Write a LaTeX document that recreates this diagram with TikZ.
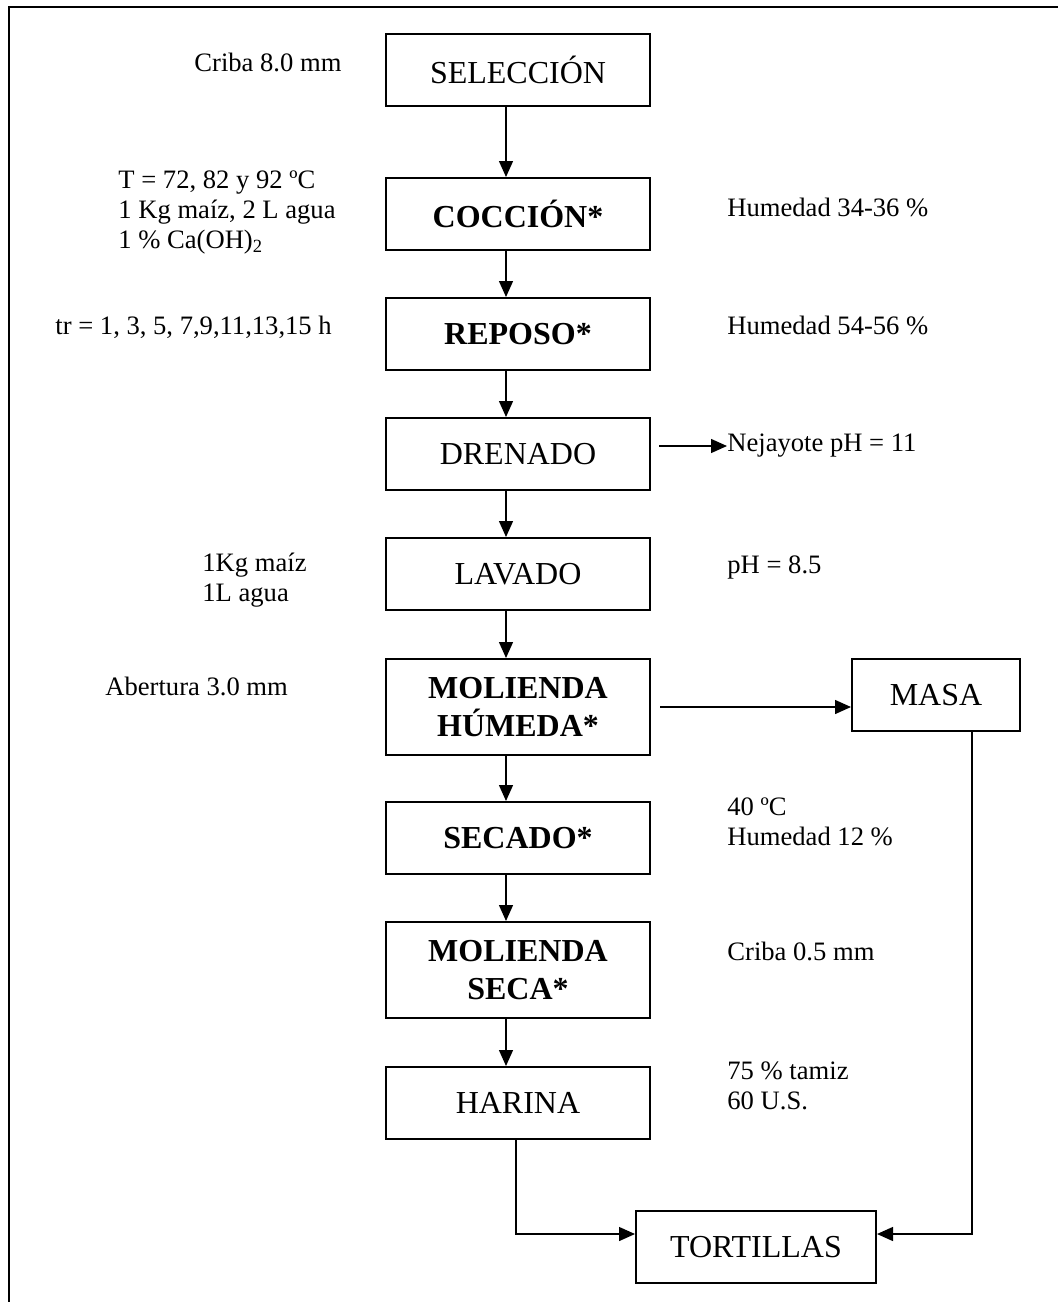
\documentclass[tikz,border=0pt]{standalone}
\usepackage{fontspec}
\setmainfont{Liberation Serif}
\usetikzlibrary{arrows.meta}
\tikzset{
  paso/.style={draw,line width=1pt,minimum width=132pt,minimum height=36pt,inner sep=2pt,align=center,font=\fontsize{16}{19}\selectfont},
  pasob/.style={paso,font=\fontsize{16}{19}\selectfont\bfseries},
  dato/.style={inner sep=0pt,anchor=west,align=left,font=\fontsize{13.3}{15}\selectfont},
  flujo/.style={line width=0.7pt,-{Triangle[length=8pt,width=7pt]}}
}

\begin{document}
\begin{tikzpicture}[x=0.5pt,y=-0.5pt]
      \useasboundingbox (0,0) rectangle (1058,1302);
      \draw[line width=1pt] (9,1302) -- (9,7) -- (1058,7);

      \node[paso] (sel) at (518,70) {SELECCIÓN};
      \node[pasob] (cocc) at (518,214) {COCCIÓN*};
      \node[pasob] (rep) at (518,334) {REPOSO*};
      \node[paso] (dren) at (518,454) {DRENADO};
      \node[paso] (lav) at (518,574) {LAVADO};
      \node[pasob,minimum height=48pt] (molh) at (518,707) {MOLIENDA\\HÚMEDA*};
      \node[pasob] (sec) at (518,838) {SECADO*};
      \node[pasob,minimum height=48pt] (mols) at (518,970) {MOLIENDA\\SECA*};
      \node[paso] (har) at (518,1103) {HARINA};
      \node[paso,minimum width=84pt] (masa) at (936,695) {MASA};
      \node[paso,minimum width=120pt] (tort) at (756,1247) {TORTILLAS};

      \node[dato] (criba1) at (194,62) {Criba 8.0 mm};
      \node[dato] (cond) at (118,212) {T = 72, 82 y 92 ºC\\1 Kg maíz, 2 L agua\\1 \% Ca(OH)\textsubscript{2}};
      \node[dato] (tr) at (55,327) {tr = 1, 3, 5, 7,9,11,13,15 h};
      \node[dato] (agua) at (202,580) {1Kg maíz\\1L agua};
      \node[dato] (aber) at (105,686) {Abertura 3.0 mm};
      \node[dato] (hum1) at (727,207) {Humedad 34-36 \%};
      \node[dato] (hum2) at (727,325) {Humedad 54-56 \%};
      \node[dato] (nej) at (727,446) {Nejayote pH = 11};
      \node[dato] (ph) at (727,567) {pH = 8.5};
      \node[dato] (seca) at (727,822) {40 ºC\\Humedad 12 \%};
      \node[dato] (criba2) at (727,951) {Criba 0.5 mm};
      \node[dato] (tamiz) at (727,1086) {75 \% tamiz\\60 U.S.};

      \draw[flujo] ([xshift=-6pt]sel.south) -- ([xshift=-6pt]cocc.north);
      \draw[flujo] ([xshift=-6pt]cocc.south) -- ([xshift=-6pt]rep.north);
      \draw[flujo] ([xshift=-6pt]rep.south) -- ([xshift=-6pt]dren.north);
      \draw[flujo] ([xshift=-6pt]dren.south) -- ([xshift=-6pt]lav.north);
      \draw[flujo] ([xshift=-6pt]lav.south) -- ([xshift=-6pt]molh.north);
      \draw[flujo] ([xshift=-6pt]molh.south) -- ([xshift=-6pt]sec.north);
      \draw[flujo] ([xshift=-6pt]sec.south) -- ([xshift=-6pt]mols.north);
      \draw[flujo] ([xshift=-6pt]mols.south) -- ([xshift=-6pt]har.north);
      \draw[flujo] ([xshift=4pt,yshift=4pt]dren.east) -- (nej.west);
      \draw[flujo] ([xshift=4.5pt]molh.east) -- (molh.east -| masa.west);
      \draw[flujo] ([xshift=-1pt]har.south) |- ([yshift=6.5pt]tort.west);
      \draw[flujo] ([xshift=18pt]masa.south) |- ([yshift=6.5pt]tort.east);
    \end{tikzpicture}
\end{document}
